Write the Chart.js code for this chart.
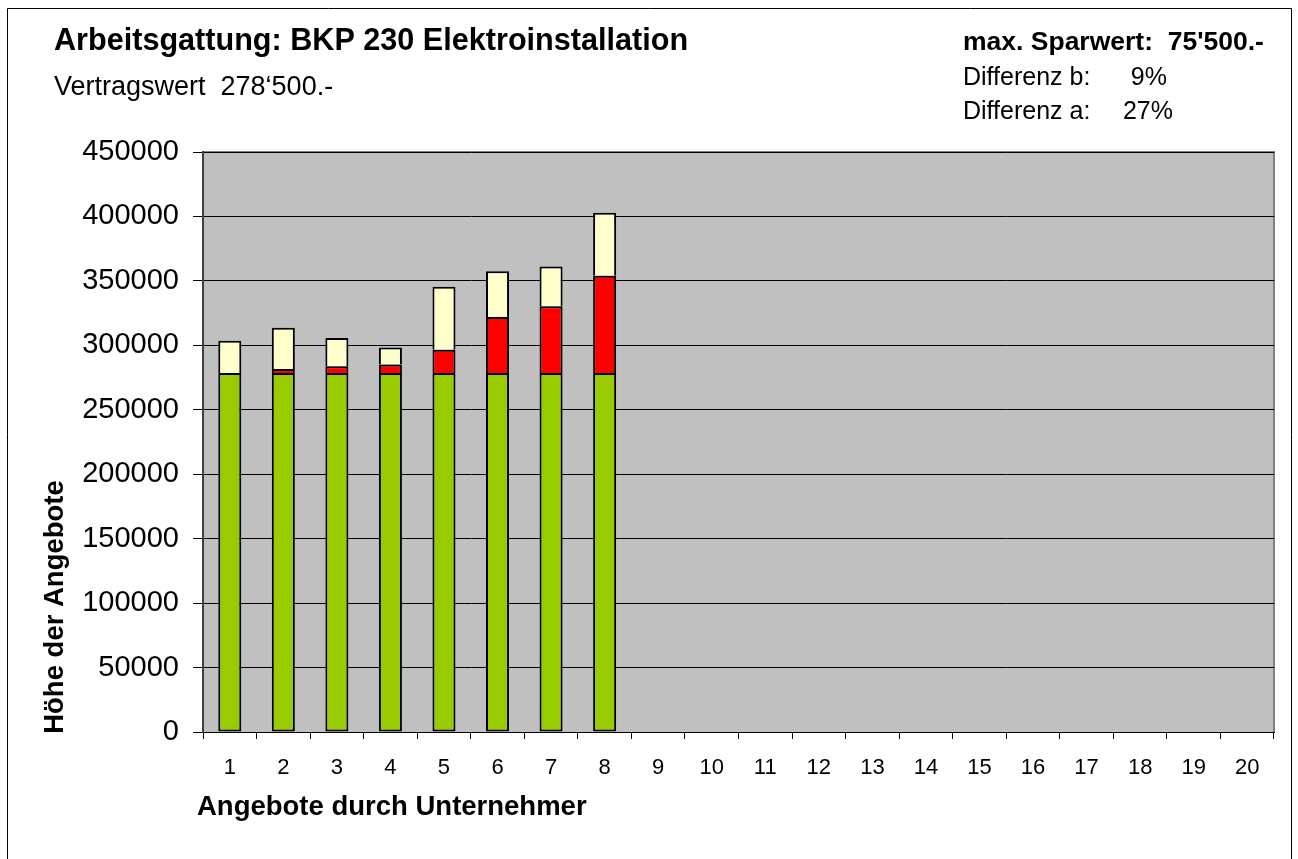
<!DOCTYPE html>
<html>
<head>
<meta charset="utf-8">
<script src="https://cdn.jsdelivr.net/npm/chart.js@4.4.1/dist/chart.umd.min.js"></script>
<style>
  html, body { margin: 0; padding: 0; background: #ffffff; }
  #wrap { position: relative; width: 1298px; height: 859px; }
  canvas { display: block; }
</style>
</head>
<body>
<div id="wrap"><canvas id="c" width="1298" height="859"></canvas></div>
<script>
// ---- data ----
const categories = ['1','2','3','4','5','6','7','8','9','10','11','12','13','14','15','16','17','18','19','20'];
const vertragswert = [278500, 278500, 278500, 278500, 278500, 278500, 278500, 278500, null, null, null, null, null, null, null, null, null, null, null, null];
const differenzRot = [null, 3100, 5200, 6700, 18100, 43500, 51800, 75500, null, null, null, null, null, null, null, null, null, null, null, null];
const restGelb = [25100, 32100, 22000, 13200, 48900, 35400, 30800, 48800, null, null, null, null, null, null, null, null, null, null, null, null];
const yTicks = [0, 50000, 100000, 150000, 200000, 250000, 300000, 350000, 400000, 450000];

const titleText = 'Arbeitsgattung: BKP 230 Elektroinstallation';
const subText = 'Vertragswert  278\u2018500.-';
const maxSpar = 'max. Sparwert:  75\'500.-';
const diffBLabel = 'Differenz b:';
const diffBValue = '9%';
const diffALabel = 'Differenz a:';
const diffAValue = '27%';
const xTitle = 'Angebote durch Unternehmer';
const yTitle = 'H\u00f6he der Angebote';

const FONT = '"Liberation Sans", Arial, Helvetica, sans-serif';

const decor = {
  id: 'decor',
  beforeDraw(chart) {
    const { ctx, chartArea: a } = chart;
    ctx.save();
    ctx.fillStyle = '#ffffff';
    ctx.fillRect(0, 0, chart.width, chart.height);
    ctx.fillStyle = '#C0C0C0';
    ctx.fillRect(a.left, a.top, a.right - a.left, a.bottom - a.top);
    ctx.strokeStyle = '#808080';
    ctx.lineWidth = 2;
    ctx.beginPath();
    ctx.moveTo(a.left, a.top);
    ctx.lineTo(a.right, a.top);
    ctx.lineTo(a.right, a.bottom);
    ctx.stroke();
    // outer frame
    ctx.strokeStyle = '#000000';
    ctx.lineWidth = 1;
    ctx.beginPath();
    ctx.moveTo(7.5, 870);
    ctx.lineTo(7.5, 8.5);
    ctx.lineTo(1291.5, 8.5);
    ctx.lineTo(1291.5, 870);
    ctx.stroke();
    ctx.restore();
  },
  afterDraw(chart) {
    const { ctx } = chart;
    ctx.save();
    ctx.fillStyle = '#000000';
    ctx.textBaseline = 'alphabetic';
    ctx.textAlign = 'left';
    ctx.font = 'bold 30.6px ' + FONT;
    ctx.fillText(titleText, 54, 50);
    ctx.font = '27px ' + FONT;
    ctx.fillText(subText, 54, 95);
    ctx.font = 'bold 26.5px ' + FONT;
    ctx.fillText(maxSpar, 963, 50);
    ctx.font = '25px ' + FONT;
    ctx.fillText(diffBLabel, 963, 85);
    ctx.fillText(diffALabel, 963, 119);
    ctx.textAlign = 'right';
    ctx.fillText(diffBValue, 1167, 85);
    ctx.fillText(diffAValue, 1173, 119);
    ctx.textAlign = 'left';
    ctx.font = 'bold 27.5px ' + FONT;
    ctx.fillText(xTitle, 197, 815);
    ctx.translate(63, 607);
    ctx.rotate(-Math.PI / 2);
    ctx.textAlign = 'center';
    ctx.font = 'bold 27.5px ' + FONT;
    ctx.fillText(yTitle, 0, 0);
    ctx.restore();
  }
};

const barCommon = { borderColor: '#000000', borderWidth: 2, barPercentage: 0.43, categoryPercentage: 1.0 };

new Chart(document.getElementById('c'), {
  type: 'bar',
  data: {
    labels: categories,
    datasets: [
      Object.assign({ label: 'Vertragswert', data: vertragswert, backgroundColor: '#99CC00', borderSkipped: false }, barCommon),
      Object.assign({ label: 'Differenz', data: differenzRot, backgroundColor: '#FF0000', borderSkipped: 'start' }, barCommon),
      Object.assign({ label: 'Rest', data: restGelb, backgroundColor: '#FFFFCC', borderSkipped: 'start' }, barCommon)
    ]
  },
  options: {
    responsive: false,
    animation: false,
    devicePixelRatio: 1,
    layout: { padding: { left: 0, right: 24, top: 152, bottom: 67 } },
    plugins: { legend: { display: false }, tooltip: { enabled: false }, title: { display: false } },
    scales: {
      x: {
        stacked: true,
        offset: true,
        grid: { display: true, drawOnChartArea: false, drawTicks: true, tickLength: 7, offset: true, color: '#000000', tickColor: '#000000' },
        border: { display: true, color: '#000000', width: 1 },
        ticks: { color: '#000000', font: { family: FONT, size: 22 }, padding: 16, maxRotation: 0, autoSkip: false },
        afterFit(scale) { scale.height = 60; }
      },
      y: {
        stacked: true,
        min: 0,
        max: 450000,
        afterBuildTicks(scale) { scale.ticks = yTicks.map(v => ({ value: v })); },
        grid: { color: '#000000', lineWidth: 1, drawTicks: true, tickLength: 10, tickColor: '#000000' },
        border: { display: true, color: '#404040', width: 2 },
        ticks: { color: '#000000', font: { family: FONT, size: 29 }, padding: 14, callback: v => String(v) },
        afterFit(scale) { scale.width = 203; }
      }
    }
  },
  plugins: [decor]
});
</script>
</body>
</html>
